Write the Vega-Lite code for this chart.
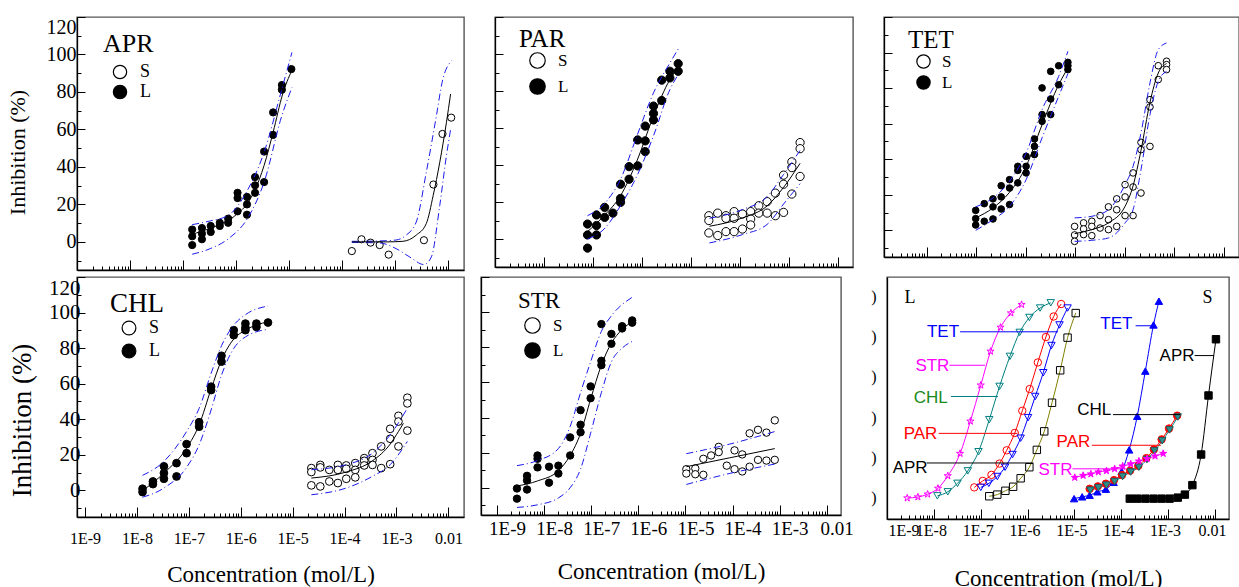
{
"$schema":"https://vega.github.io/schema/vega-lite/v6.json",
"background":"white",
"padding":{"left":5,"top":15,"right":0,"bottom":0},
"config":{
 "view":{"stroke":"#555","strokeWidth":1.4},
 "axis":{"domainColor":"black","domainWidth":1.3,"tickColor":"black","tickWidth":1,"grid":false,"labelFont":"Liberation Serif","labelColor":"black","titleFont":"Liberation Serif","titleFontWeight":"normal","titleColor":"black","labelOverlap":false,"labelBound":false,"labelFlush":false},
 "legend":{"titleFont":"Liberation Serif","titleFontWeight":"normal","titleColor":"black","labelFont":"Liberation Serif","labelColor":"black","symbolStrokeColor":"black","symbolStrokeWidth":1.2,"symbolType":"circle","padding":0}
},
"datasets":{
"apr":[
{"kind":"pt","type":"L","conc":1.49e-7,"inh":6.6},{"kind":"pt","type":"L","conc":1.49e-7,"inh":3.0},{"kind":"pt","type":"L","conc":1.49e-7,"inh":-1.7},
{"kind":"pt","type":"L","conc":2.275e-7,"inh":7.4},{"kind":"pt","type":"L","conc":2.275e-7,"inh":4.4},{"kind":"pt","type":"L","conc":2.275e-7,"inh":1.4},
{"kind":"pt","type":"L","conc":3.334e-7,"inh":8.5},{"kind":"pt","type":"L","conc":3.334e-7,"inh":5.3},
{"kind":"pt","type":"L","conc":4.94e-7,"inh":10.2},{"kind":"pt","type":"L","conc":4.94e-7,"inh":8.5},
{"kind":"pt","type":"L","conc":7.11e-7,"inh":12.4},{"kind":"pt","type":"L","conc":7.11e-7,"inh":10.2},
{"kind":"pt","type":"L","conc":1.069e-6,"inh":26.2},{"kind":"pt","type":"L","conc":1.069e-6,"inh":23.4},{"kind":"pt","type":"L","conc":1.069e-6,"inh":16.3},
{"kind":"pt","type":"L","conc":1.61e-6,"inh":24.0},{"kind":"pt","type":"L","conc":1.61e-6,"inh":20.0},{"kind":"pt","type":"L","conc":1.61e-6,"inh":14.5},
{"kind":"pt","type":"L","conc":2.286e-6,"inh":34.6},{"kind":"pt","type":"L","conc":2.286e-6,"inh":30.2},{"kind":"pt","type":"L","conc":2.286e-6,"inh":26.2},
{"kind":"pt","type":"L","conc":3.388e-6,"inh":48.2},{"kind":"pt","type":"L","conc":3.388e-6,"inh":31.9},
{"kind":"pt","type":"L","conc":5.01e-6,"inh":69.1},{"kind":"pt","type":"L","conc":5.01e-6,"inh":57.1},
{"kind":"pt","type":"L","conc":7.33e-6,"inh":83.7},{"kind":"pt","type":"L","conc":7.33e-6,"inh":81.2},
{"kind":"pt","type":"L","conc":1.107e-5,"inh":92.2},
{"kind":"fit","type":"L","conc":1.49e-7,"inh":3.9},{"kind":"fit","type":"L","conc":2.208e-7,"inh":5.7},{"kind":"fit","type":"L","conc":3.273e-7,"inh":7.1},{"kind":"fit","type":"L","conc":4.94e-7,"inh":9.4},{"kind":"fit","type":"L","conc":7.194e-7,"inh":11.5},{"kind":"fit","type":"L","conc":1.069e-6,"inh":15.1},{"kind":"fit","type":"L","conc":1.633e-6,"inh":20.4},{"kind":"fit","type":"L","conc":2.249e-6,"inh":27.4},{"kind":"fit","type":"L","conc":3.388e-6,"inh":40.8},{"kind":"fit","type":"L","conc":5.01e-6,"inh":58.5},{"kind":"fit","type":"L","conc":7.586e-6,"inh":78.9},{"kind":"fit","type":"L","conc":1.122e-5,"inh":91.3},
{"kind":"up","type":"L","conc":1.49e-7,"inh":9.2},{"kind":"up","type":"L","conc":3.273e-7,"inh":11.2},{"kind":"up","type":"L","conc":7.194e-7,"inh":14.2},{"kind":"up","type":"L","conc":1.633e-6,"inh":27.4},{"kind":"up","type":"L","conc":3.388e-6,"inh":47.8},{"kind":"up","type":"L","conc":7.33e-6,"inh":81.6},{"kind":"up","type":"L","conc":1.135e-5,"inh":101.1},
{"kind":"lo","type":"L","conc":1.49e-7,"inh":-6.6},{"kind":"lo","type":"L","conc":3.273e-7,"inh":-3.6},{"kind":"lo","type":"L","conc":7.194e-7,"inh":1.7},{"kind":"lo","type":"L","conc":1.633e-6,"inh":12.4},{"kind":"lo","type":"L","conc":3.388e-6,"inh":31.9},{"kind":"lo","type":"L","conc":7.33e-6,"inh":67.4},{"kind":"lo","type":"L","conc":1.135e-5,"inh":82.4},
{"kind":"pt","type":"S","conc":1.531e-4,"inh":-4.9},{"kind":"pt","type":"S","conc":2.328e-4,"inh":1.4},{"kind":"pt","type":"S","conc":3.451e-4,"inh":-0.4},{"kind":"pt","type":"S","conc":5.129e-4,"inh":-1.7},{"kind":"pt","type":"S","conc":7.586e-4,"inh":-6.8},{"kind":"pt","type":"S","conc":3.508e-3,"inh":0.9},{"kind":"pt","type":"S","conc":5.297e-3,"inh":30.6},{"kind":"pt","type":"S","conc":7.852e-3,"inh":57.6},{"kind":"pt","type":"S","conc":1.148e-2,"inh":66.3},
{"kind":"fit","type":"S","conc":1.531e-4,"inh":0},{"kind":"fit","type":"S","conc":7e-4,"inh":0},{"kind":"fit","type":"S","conc":1.403e-3,"inh":0.3},{"kind":"fit","type":"S","conc":2.512e-3,"inh":3.6},{"kind":"fit","type":"S","conc":3.89e-3,"inh":9.8},{"kind":"fit","type":"S","conc":5.248e-3,"inh":24.8},{"kind":"fit","type":"S","conc":6.982e-3,"inh":42.5},{"kind":"fit","type":"S","conc":9.333e-3,"inh":63.8},{"kind":"fit","type":"S","conc":1.117e-2,"inh":78.9},
{"kind":"up","type":"S","conc":1.531e-4,"inh":0.3},{"kind":"up","type":"S","conc":5e-4,"inh":0.5},{"kind":"up","type":"S","conc":1.047e-3,"inh":1},{"kind":"up","type":"S","conc":1.622e-3,"inh":3.6},{"kind":"up","type":"S","conc":2.512e-3,"inh":10.6},{"kind":"up","type":"S","conc":3.89e-3,"inh":37.2},{"kind":"up","type":"S","conc":6.04e-3,"inh":67.4},{"kind":"up","type":"S","conc":7.73e-3,"inh":85.1},{"kind":"up","type":"S","conc":1.164e-2,"inh":96.7},
{"kind":"lo","type":"S","conc":1.531e-4,"inh":-0.3},{"kind":"lo","type":"S","conc":5e-4,"inh":-0.5},{"kind":"lo","type":"S","conc":1.047e-3,"inh":-3.6},{"kind":"lo","type":"S","conc":1.879e-3,"inh":-8.0},{"kind":"lo","type":"S","conc":3.516e-3,"inh":-12.1},{"kind":"lo","type":"S","conc":4.853e-3,"inh":-8.0},{"kind":"lo","type":"S","conc":6.982e-3,"inh":19.5},{"kind":"lo","type":"S","conc":9.333e-3,"inh":46.1},{"kind":"lo","type":"S","conc":1.117e-2,"inh":59.9}
],
"par":[
{"kind":"pt","type":"L","conc":7.709e-8,"inh":8.2},{"kind":"pt","type":"L","conc":7.709e-8,"inh":2.3},{"kind":"pt","type":"L","conc":7.709e-8,"inh":-4.8},
{"kind":"pt","type":"L","conc":1.175e-7,"inh":13.1},{"kind":"pt","type":"L","conc":1.175e-7,"inh":7.4},{"kind":"pt","type":"L","conc":1.175e-7,"inh":2.3},
{"kind":"pt","type":"L","conc":1.722e-7,"inh":17.2},{"kind":"pt","type":"L","conc":1.722e-7,"inh":11.8},
{"kind":"pt","type":"L","conc":2.541e-7,"inh":14.1},
{"kind":"pt","type":"L","conc":3.631e-7,"inh":29.7},{"kind":"pt","type":"L","conc":3.631e-7,"inh":22.0},{"kind":"pt","type":"L","conc":3.631e-7,"inh":19.9},
{"kind":"pt","type":"L","conc":5.42e-7,"inh":39.2},{"kind":"pt","type":"L","conc":5.42e-7,"inh":32.4},
{"kind":"pt","type":"L","conc":8.128e-7,"inh":53.6},{"kind":"pt","type":"L","conc":8.128e-7,"inh":39.6},
{"kind":"pt","type":"L","conc":1.156e-6,"inh":61.1},{"kind":"pt","type":"L","conc":1.156e-6,"inh":53.1},{"kind":"pt","type":"L","conc":1.156e-6,"inh":47.3},
{"kind":"pt","type":"L","conc":1.706e-6,"inh":71.9},{"kind":"pt","type":"L","conc":1.706e-6,"inh":67.9},{"kind":"pt","type":"L","conc":1.706e-6,"inh":64.4},
{"kind":"pt","type":"L","conc":2.512e-6,"inh":85.9},{"kind":"pt","type":"L","conc":2.512e-6,"inh":74.9},
{"kind":"pt","type":"L","conc":3.69e-6,"inh":90.7},{"kind":"pt","type":"L","conc":3.69e-6,"inh":87.1},
{"kind":"pt","type":"L","conc":5.445e-6,"inh":94.8},{"kind":"pt","type":"L","conc":5.445e-6,"inh":90.7},
{"kind":"fit","type":"L","conc":7.709e-8,"inh":4.1},{"kind":"fit","type":"L","conc":1.675e-7,"inh":12.7},{"kind":"fit","type":"L","conc":3.631e-7,"inh":23.5},{"kind":"fit","type":"L","conc":7.852e-7,"inh":42.3},{"kind":"fit","type":"L","conc":1.706e-6,"inh":66.5},{"kind":"fit","type":"L","conc":3.69e-6,"inh":86.2},{"kind":"fit","type":"L","conc":5.445e-6,"inh":92.5},
{"kind":"up","type":"L","conc":7.709e-8,"inh":12.7},{"kind":"up","type":"L","conc":1.675e-7,"inh":19},{"kind":"up","type":"L","conc":3.631e-7,"inh":32.4},{"kind":"up","type":"L","conc":7.852e-7,"inh":55.8},{"kind":"up","type":"L","conc":1.706e-6,"inh":79},{"kind":"up","type":"L","conc":3.69e-6,"inh":95.2},{"kind":"up","type":"L","conc":5.445e-6,"inh":102.7},
{"kind":"lo","type":"L","conc":7.709e-8,"inh":0.2},{"kind":"lo","type":"L","conc":1.675e-7,"inh":5.5},{"kind":"lo","type":"L","conc":3.631e-7,"inh":18.1},{"kind":"lo","type":"L","conc":7.852e-7,"inh":34.2},{"kind":"lo","type":"L","conc":1.706e-6,"inh":55.8},{"kind":"lo","type":"L","conc":3.69e-6,"inh":80.8},{"kind":"lo","type":"L","conc":5.445e-6,"inh":88.9},
{"kind":"pt","type":"S","conc":2.296e-5,"inh":12.7},{"kind":"pt","type":"S","conc":2.296e-5,"inh":10.1},{"kind":"pt","type":"S","conc":2.296e-5,"inh":3.4},
{"kind":"pt","type":"S","conc":3.483e-5,"inh":14.1},{"kind":"pt","type":"S","conc":3.483e-5,"inh":2.0},
{"kind":"pt","type":"S","conc":5.129e-5,"inh":12.7},{"kind":"pt","type":"S","conc":5.129e-5,"inh":11.3},{"kind":"pt","type":"S","conc":5.129e-5,"inh":4.1},
{"kind":"pt","type":"S","conc":7.534e-5,"inh":14.9},{"kind":"pt","type":"S","conc":7.534e-5,"inh":11.3},{"kind":"pt","type":"S","conc":7.534e-5,"inh":4.1},
{"kind":"pt","type":"S","conc":1.112e-4,"inh":13.6},{"kind":"pt","type":"S","conc":1.112e-4,"inh":5.5},
{"kind":"pt","type":"S","conc":1.637e-4,"inh":14.9},{"kind":"pt","type":"S","conc":1.637e-4,"inh":10.9},{"kind":"pt","type":"S","conc":1.637e-4,"inh":7.7},
{"kind":"pt","type":"S","conc":2.399e-4,"inh":18.1},{"kind":"pt","type":"S","conc":2.399e-4,"inh":14.1},
{"kind":"pt","type":"S","conc":3.548e-4,"inh":20.3},{"kind":"pt","type":"S","conc":3.548e-4,"inh":14.1},
{"kind":"pt","type":"S","conc":5.224e-4,"inh":24.9},{"kind":"pt","type":"S","conc":5.224e-4,"inh":12.7},
{"kind":"pt","type":"S","conc":7.674e-4,"inh":34.6},{"kind":"pt","type":"S","conc":7.674e-4,"inh":29.7},{"kind":"pt","type":"S","conc":7.674e-4,"inh":14.5},
{"kind":"pt","type":"S","conc":1.132e-3,"inh":41.8},{"kind":"pt","type":"S","conc":1.132e-3,"inh":38.7},{"kind":"pt","type":"S","conc":1.132e-3,"inh":24.4},
{"kind":"pt","type":"S","conc":1.667e-3,"inh":52.2},{"kind":"pt","type":"S","conc":1.667e-3,"inh":48.9},{"kind":"pt","type":"S","conc":1.667e-3,"inh":33.9},
{"kind":"fit","type":"S","conc":2.36e-5,"inh":7},{"kind":"fit","type":"S","conc":1.112e-4,"inh":11.5},{"kind":"fit","type":"S","conc":3.548e-4,"inh":18},{"kind":"fit","type":"S","conc":7.674e-4,"inh":28},{"kind":"fit","type":"S","conc":1.667e-3,"inh":41},
{"kind":"up","type":"S","conc":2.36e-5,"inh":11.3},{"kind":"up","type":"S","conc":1.112e-4,"inh":16},{"kind":"up","type":"S","conc":3.548e-4,"inh":23},{"kind":"up","type":"S","conc":7.674e-4,"inh":35},{"kind":"up","type":"S","conc":1.667e-3,"inh":48},
{"kind":"lo","type":"S","conc":2.36e-5,"inh":-2},{"kind":"lo","type":"S","conc":1.112e-4,"inh":2.5},{"kind":"lo","type":"S","conc":3.548e-4,"inh":8},{"kind":"lo","type":"S","conc":7.674e-4,"inh":19},{"kind":"lo","type":"S","conc":1.667e-3,"inh":30}
],
"tet":[
{"kind":"pt","type":"L","conc":9.817e-8,"inh":11.2},{"kind":"pt","type":"L","conc":9.817e-8,"inh":6.6},{"kind":"pt","type":"L","conc":9.817e-8,"inh":3.0},
{"kind":"pt","type":"L","conc":1.462e-7,"inh":15.0},{"kind":"pt","type":"L","conc":1.462e-7,"inh":5.1},
{"kind":"pt","type":"L","conc":2.188e-7,"inh":17.7},{"kind":"pt","type":"L","conc":2.188e-7,"inh":13.2},{"kind":"pt","type":"L","conc":2.188e-7,"inh":6.4},
{"kind":"pt","type":"L","conc":3.206e-7,"inh":25.1},{"kind":"pt","type":"L","conc":3.206e-7,"inh":18.8},{"kind":"pt","type":"L","conc":3.206e-7,"inh":12.0},
{"kind":"pt","type":"L","conc":4.732e-7,"inh":28.5},{"kind":"pt","type":"L","conc":4.732e-7,"inh":23.8},{"kind":"pt","type":"L","conc":4.732e-7,"inh":14.5},
{"kind":"pt","type":"L","conc":6.934e-7,"inh":36.0},{"kind":"pt","type":"L","conc":6.934e-7,"inh":33.7},{"kind":"pt","type":"L","conc":6.934e-7,"inh":26.7},
{"kind":"pt","type":"L","conc":1.019e-6,"inh":41.6},{"kind":"pt","type":"L","conc":1.019e-6,"inh":36.0},{"kind":"pt","type":"L","conc":1.019e-6,"inh":32.3},
{"kind":"pt","type":"L","conc":1.503e-6,"inh":51.4},{"kind":"pt","type":"L","conc":1.503e-6,"inh":47.2},{"kind":"pt","type":"L","conc":1.503e-6,"inh":42.6},
{"kind":"pt","type":"L","conc":2.138e-6,"inh":80.1},{"kind":"pt","type":"L","conc":2.138e-6,"inh":65.1},{"kind":"pt","type":"L","conc":2.138e-6,"inh":61.3},
{"kind":"pt","type":"L","conc":3.192e-6,"inh":89.4},{"kind":"pt","type":"L","conc":3.192e-6,"inh":73.9},{"kind":"pt","type":"L","conc":3.192e-6,"inh":65.1},
{"kind":"pt","type":"L","conc":4.624e-6,"inh":92.6},{"kind":"pt","type":"L","conc":4.624e-6,"inh":81.9},
{"kind":"pt","type":"L","conc":7.096e-6,"inh":94.5},{"kind":"pt","type":"L","conc":7.096e-6,"inh":92.6},{"kind":"pt","type":"L","conc":7.096e-6,"inh":90.4},
{"kind":"fit","type":"L","conc":9.817e-8,"inh":7.0},{"kind":"fit","type":"L","conc":2.188e-7,"inh":12.6},{"kind":"fit","type":"L","conc":4.732e-7,"inh":21.4},{"kind":"fit","type":"L","conc":1.019e-6,"inh":36},{"kind":"fit","type":"L","conc":2.138e-6,"inh":59.4},{"kind":"fit","type":"L","conc":4.624e-6,"inh":81.9},{"kind":"fit","type":"L","conc":7.096e-6,"inh":91.3},
{"kind":"up","type":"L","conc":9.817e-8,"inh":13.2},{"kind":"up","type":"L","conc":2.188e-7,"inh":18.2},{"kind":"up","type":"L","conc":4.732e-7,"inh":27.6},{"kind":"up","type":"L","conc":1.019e-6,"inh":43.5},{"kind":"up","type":"L","conc":2.138e-6,"inh":67.9},{"kind":"up","type":"L","conc":4.624e-6,"inh":86.6},{"kind":"up","type":"L","conc":7.096e-6,"inh":100.7},
{"kind":"lo","type":"L","conc":9.817e-8,"inh":0},{"kind":"lo","type":"L","conc":2.188e-7,"inh":6},{"kind":"lo","type":"L","conc":4.732e-7,"inh":13.5},{"kind":"lo","type":"L","conc":1.019e-6,"inh":28.5},{"kind":"lo","type":"L","conc":2.138e-6,"inh":52},{"kind":"lo","type":"L","conc":4.624e-6,"inh":75.4},{"kind":"lo","type":"L","conc":7.096e-6,"inh":88.1},
{"kind":"pt","type":"S","conc":9.683e-6,"inh":2.2},{"kind":"pt","type":"S","conc":9.683e-6,"inh":-2.6},{"kind":"pt","type":"S","conc":9.683e-6,"inh":-6.2},
{"kind":"pt","type":"S","conc":1.469e-5,"inh":4.2},{"kind":"pt","type":"S","conc":1.469e-5,"inh":0.8},{"kind":"pt","type":"S","conc":1.469e-5,"inh":-2.4},
{"kind":"pt","type":"S","conc":2.153e-5,"inh":5.1},{"kind":"pt","type":"S","conc":2.153e-5,"inh":2.2},{"kind":"pt","type":"S","conc":2.153e-5,"inh":-3.0},
{"kind":"pt","type":"S","conc":3.162e-5,"inh":8.3},{"kind":"pt","type":"S","conc":3.162e-5,"inh":1.3},
{"kind":"pt","type":"S","conc":4.667e-5,"inh":13.2},{"kind":"pt","type":"S","conc":4.667e-5,"inh":6.0},{"kind":"pt","type":"S","conc":4.667e-5,"inh":0.4},
{"kind":"pt","type":"S","conc":6.839e-5,"inh":17.7},{"kind":"pt","type":"S","conc":6.839e-5,"inh":11.6},{"kind":"pt","type":"S","conc":6.839e-5,"inh":2.2},
{"kind":"pt","type":"S","conc":1.009e-4,"inh":25.7},{"kind":"pt","type":"S","conc":1.009e-4,"inh":18.8},{"kind":"pt","type":"S","conc":1.009e-4,"inh":8.3},
{"kind":"pt","type":"S","conc":1.462e-4,"inh":32.3},{"kind":"pt","type":"S","conc":1.462e-4,"inh":24.4},{"kind":"pt","type":"S","conc":1.462e-4,"inh":8.3},
{"kind":"pt","type":"S","conc":2.113e-4,"inh":49.5},{"kind":"pt","type":"S","conc":2.113e-4,"inh":45.4},{"kind":"pt","type":"S","conc":2.113e-4,"inh":21.0},
{"kind":"pt","type":"S","conc":3.206e-4,"inh":73.5},{"kind":"pt","type":"S","conc":3.206e-4,"inh":69.4},{"kind":"pt","type":"S","conc":3.206e-4,"inh":47.2},
{"kind":"pt","type":"S","conc":4.71e-4,"inh":92.6},{"kind":"pt","type":"S","conc":4.71e-4,"inh":84.8},
{"kind":"pt","type":"S","conc":6.918e-4,"inh":95.1},{"kind":"pt","type":"S","conc":6.918e-4,"inh":93.2},{"kind":"pt","type":"S","conc":6.918e-4,"inh":90.4},
{"kind":"fit","type":"S","conc":9.683e-6,"inh":-1.9},{"kind":"fit","type":"S","conc":2.153e-5,"inh":0.4},{"kind":"fit","type":"S","conc":4.667e-5,"inh":4.2},{"kind":"fit","type":"S","conc":1.009e-4,"inh":13.5},{"kind":"fit","type":"S","conc":1.462e-4,"inh":25},{"kind":"fit","type":"S","conc":2.113e-4,"inh":45},{"kind":"fit","type":"S","conc":3.206e-4,"inh":72},{"kind":"fit","type":"S","conc":4.71e-4,"inh":88.5},{"kind":"fit","type":"S","conc":6.918e-4,"inh":93.8},
{"kind":"up","type":"S","conc":9.683e-6,"inh":7},{"kind":"up","type":"S","conc":2.153e-5,"inh":7.9},{"kind":"up","type":"S","conc":4.667e-5,"inh":11.6},{"kind":"up","type":"S","conc":1.009e-4,"inh":25.7},{"kind":"up","type":"S","conc":1.462e-4,"inh":36},{"kind":"up","type":"S","conc":2.113e-4,"inh":54.8},{"kind":"up","type":"S","conc":3.206e-4,"inh":82.9},{"kind":"up","type":"S","conc":4.71e-4,"inh":101.6},{"kind":"up","type":"S","conc":6.918e-4,"inh":105.4},
{"kind":"lo","type":"S","conc":9.683e-6,"inh":-6.2},{"kind":"lo","type":"S","conc":2.153e-5,"inh":-5.6},{"kind":"lo","type":"S","conc":4.667e-5,"inh":-4.3},{"kind":"lo","type":"S","conc":1.009e-4,"inh":4.2},{"kind":"lo","type":"S","conc":1.462e-4,"inh":11.6},{"kind":"lo","type":"S","conc":2.113e-4,"inh":34.1},{"kind":"lo","type":"S","conc":3.206e-4,"inh":65.1},{"kind":"lo","type":"S","conc":4.71e-4,"inh":83.8},{"kind":"lo","type":"S","conc":6.918e-4,"inh":89.4}
],
"chl":[
{"kind":"pt","type":"L","conc":1.282e-8,"inh":0.9},{"kind":"pt","type":"L","conc":1.282e-8,"inh":-1.0},
{"kind":"pt","type":"L","conc":2.032e-8,"inh":5.0},{"kind":"pt","type":"L","conc":2.032e-8,"inh":3.5},
{"kind":"pt","type":"L","conc":3.311e-8,"inh":13.5},{"kind":"pt","type":"L","conc":3.311e-8,"inh":9.7},{"kind":"pt","type":"L","conc":3.311e-8,"inh":6.5},
{"kind":"pt","type":"L","conc":5.794e-8,"inh":15.3},{"kind":"pt","type":"L","conc":5.794e-8,"inh":7.8},
{"kind":"pt","type":"L","conc":9.036e-8,"inh":26.0},{"kind":"pt","type":"L","conc":9.036e-8,"inh":20.9},
{"kind":"pt","type":"L","conc":1.578e-7,"inh":38.3},{"kind":"pt","type":"L","conc":1.578e-7,"inh":35.8},
{"kind":"pt","type":"L","conc":2.685e-7,"inh":58.3},{"kind":"pt","type":"L","conc":2.685e-7,"inh":56.4},
{"kind":"pt","type":"L","conc":4.256e-7,"inh":75.7},{"kind":"pt","type":"L","conc":4.256e-7,"inh":72.4},
{"kind":"pt","type":"L","conc":7.328e-7,"inh":90.1},{"kind":"pt","type":"L","conc":7.328e-7,"inh":87.3},
{"kind":"pt","type":"L","conc":1.23e-6,"inh":93.8},{"kind":"pt","type":"L","conc":1.23e-6,"inh":91.5},{"kind":"pt","type":"L","conc":1.23e-6,"inh":90.1},
{"kind":"pt","type":"L","conc":2.004e-6,"inh":93.8},{"kind":"pt","type":"L","conc":2.004e-6,"inh":91.9},
{"kind":"pt","type":"L","conc":3.35e-6,"inh":94.4},
{"kind":"fit","type":"L","conc":1.282e-8,"inh":-0.2},{"kind":"fit","type":"L","conc":3.311e-8,"inh":9.7},{"kind":"fit","type":"L","conc":9.036e-8,"inh":23.7},{"kind":"fit","type":"L","conc":1.578e-7,"inh":36.8},{"kind":"fit","type":"L","conc":2.685e-7,"inh":57.0},{"kind":"fit","type":"L","conc":4.256e-7,"inh":73.2},{"kind":"fit","type":"L","conc":7.328e-7,"inh":85.1},{"kind":"fit","type":"L","conc":1.23e-6,"inh":90.1},{"kind":"fit","type":"L","conc":3.35e-6,"inh":94.8},
{"kind":"up","type":"L","conc":1.282e-8,"inh":8.4},{"kind":"up","type":"L","conc":3.311e-8,"inh":16.3},{"kind":"up","type":"L","conc":9.036e-8,"inh":33.1},{"kind":"up","type":"L","conc":1.578e-7,"inh":46.1},{"kind":"up","type":"L","conc":2.685e-7,"inh":65.8},{"kind":"up","type":"L","conc":4.256e-7,"inh":81.3},{"kind":"up","type":"L","conc":7.328e-7,"inh":92.9},{"kind":"up","type":"L","conc":1.23e-6,"inh":98.8},{"kind":"up","type":"L","conc":3.35e-6,"inh":103.7},
{"kind":"lo","type":"L","conc":1.282e-8,"inh":-3.9},{"kind":"lo","type":"L","conc":3.311e-8,"inh":1.3},{"kind":"lo","type":"L","conc":9.036e-8,"inh":12.9},{"kind":"lo","type":"L","conc":1.578e-7,"inh":25.6},{"kind":"lo","type":"L","conc":2.685e-7,"inh":45.2},{"kind":"lo","type":"L","conc":4.256e-7,"inh":64.8},{"kind":"lo","type":"L","conc":7.328e-7,"inh":79.8},{"kind":"lo","type":"L","conc":1.23e-6,"inh":86.3},{"kind":"lo","type":"L","conc":3.35e-6,"inh":90.6},
{"kind":"pt","type":"S","conc":2.291e-5,"inh":12.5},{"kind":"pt","type":"S","conc":2.291e-5,"inh":10.3},{"kind":"pt","type":"S","conc":2.291e-5,"inh":2.8},
{"kind":"pt","type":"S","conc":3.404e-5,"inh":14.3},{"kind":"pt","type":"S","conc":3.404e-5,"inh":12.9},{"kind":"pt","type":"S","conc":3.404e-5,"inh":2.2},
{"kind":"pt","type":"S","conc":5.082e-5,"inh":11.5},{"kind":"pt","type":"S","conc":5.082e-5,"inh":5.0},
{"kind":"pt","type":"S","conc":7.43e-5,"inh":14.3},{"kind":"pt","type":"S","conc":7.43e-5,"inh":11.5},{"kind":"pt","type":"S","conc":7.43e-5,"inh":4.1},
{"kind":"pt","type":"S","conc":1.079e-4,"inh":14.0},{"kind":"pt","type":"S","conc":1.079e-4,"inh":12.1},{"kind":"pt","type":"S","conc":1.079e-4,"inh":6.5},
{"kind":"pt","type":"S","conc":1.607e-4,"inh":15.3},{"kind":"pt","type":"S","conc":1.607e-4,"inh":11.5},{"kind":"pt","type":"S","conc":1.607e-4,"inh":7.3},
{"kind":"pt","type":"S","conc":2.393e-4,"inh":18.1},{"kind":"pt","type":"S","conc":2.393e-4,"inh":16.6},{"kind":"pt","type":"S","conc":2.393e-4,"inh":14.0},
{"kind":"pt","type":"S","conc":3.451e-4,"inh":20.9},{"kind":"pt","type":"S","conc":3.451e-4,"inh":17.1},{"kind":"pt","type":"S","conc":3.451e-4,"inh":14.3},
{"kind":"pt","type":"S","conc":5.082e-4,"inh":24.7},{"kind":"pt","type":"S","conc":5.082e-4,"inh":12.5},
{"kind":"pt","type":"S","conc":7.568e-4,"inh":34.6},{"kind":"pt","type":"S","conc":7.568e-4,"inh":29.0},{"kind":"pt","type":"S","conc":7.568e-4,"inh":14.7},
{"kind":"pt","type":"S","conc":1.092e-3,"inh":41.9},{"kind":"pt","type":"S","conc":1.092e-3,"inh":38.7},{"kind":"pt","type":"S","conc":1.092e-3,"inh":24.7},
{"kind":"pt","type":"S","conc":1.622e-3,"inh":52.1},{"kind":"pt","type":"S","conc":1.622e-3,"inh":48.9},{"kind":"pt","type":"S","conc":1.622e-3,"inh":33.6},
{"kind":"fit","type":"S","conc":2.291e-5,"inh":6.9},{"kind":"fit","type":"S","conc":1.079e-4,"inh":10.3},{"kind":"fit","type":"S","conc":3.451e-4,"inh":16.6},{"kind":"fit","type":"S","conc":7.568e-4,"inh":26.0},{"kind":"fit","type":"S","conc":1.092e-3,"inh":33.1},{"kind":"fit","type":"S","conc":1.365e-3,"inh":37.7},
{"kind":"up","type":"S","conc":2.291e-5,"inh":11.6},{"kind":"up","type":"S","conc":1.079e-4,"inh":14.4},{"kind":"up","type":"S","conc":3.451e-4,"inh":20.9},{"kind":"up","type":"S","conc":7.568e-4,"inh":31.2},{"kind":"up","type":"S","conc":1.622e-3,"inh":46.2},
{"kind":"lo","type":"S","conc":2.291e-5,"inh":-2.5},{"kind":"lo","type":"S","conc":1.079e-4,"inh":1.3},{"kind":"lo","type":"S","conc":3.451e-4,"inh":7.9},{"kind":"lo","type":"S","conc":7.568e-4,"inh":14.4},{"kind":"lo","type":"S","conc":1.622e-3,"inh":27.5}
],
"strp":[
{"kind":"pt","type":"L","conc":2.649e-9,"inh":-0.4},{"kind":"pt","type":"L","conc":2.649e-9,"inh":-6.2},
{"kind":"pt","type":"L","conc":4.335e-9,"inh":6.8},{"kind":"pt","type":"L","conc":4.335e-9,"inh":4.2},{"kind":"pt","type":"L","conc":4.335e-9,"inh":-1.0},
{"kind":"pt","type":"L","conc":7.244e-9,"inh":18.4},{"kind":"pt","type":"L","conc":7.244e-9,"inh":16.5},{"kind":"pt","type":"L","conc":7.244e-9,"inh":11.6},
{"kind":"pt","type":"L","conc":1.271e-8,"inh":12.0},{"kind":"pt","type":"L","conc":1.271e-8,"inh":2.9},
{"kind":"pt","type":"L","conc":2.009e-8,"inh":12.6},{"kind":"pt","type":"L","conc":2.009e-8,"inh":8.1},
{"kind":"pt","type":"L","conc":3.573e-8,"inh":28.7},{"kind":"pt","type":"L","conc":3.573e-8,"inh":18.4},
{"kind":"pt","type":"L","conc":5.943e-8,"inh":44.2},{"kind":"pt","type":"L","conc":5.943e-8,"inh":35.9},{"kind":"pt","type":"L","conc":5.943e-8,"inh":31.6},
{"kind":"pt","type":"L","conc":9.705e-8,"inh":57.7},{"kind":"pt","type":"L","conc":9.705e-8,"inh":51.0},
{"kind":"pt","type":"L","conc":1.644e-7,"inh":93.2},{"kind":"pt","type":"L","conc":1.644e-7,"inh":72.3},{"kind":"pt","type":"L","conc":1.644e-7,"inh":69.8},
{"kind":"pt","type":"L","conc":2.685e-7,"inh":87.6},{"kind":"pt","type":"L","conc":2.685e-7,"inh":82.0},
{"kind":"pt","type":"L","conc":4.529e-7,"inh":92.0},{"kind":"pt","type":"L","conc":4.529e-7,"inh":90.7},
{"kind":"pt","type":"L","conc":7.413e-7,"inh":95.3},{"kind":"pt","type":"L","conc":7.413e-7,"inh":94.0},
{"kind":"fit","type":"L","conc":2.649e-9,"inh":1.0},{"kind":"fit","type":"L","conc":7.244e-9,"inh":3.9},{"kind":"fit","type":"L","conc":2.009e-8,"inh":9.7},{"kind":"fit","type":"L","conc":3.573e-8,"inh":18.4},{"kind":"fit","type":"L","conc":5.943e-8,"inh":31},{"kind":"fit","type":"L","conc":9.705e-8,"inh":50.4},{"kind":"fit","type":"L","conc":1.644e-7,"inh":69.8},{"kind":"fit","type":"L","conc":2.685e-7,"inh":82.4},{"kind":"fit","type":"L","conc":4.529e-7,"inh":90.1},{"kind":"fit","type":"L","conc":7.413e-7,"inh":94.6},
{"kind":"up","type":"L","conc":2.649e-9,"inh":12.6},{"kind":"up","type":"L","conc":7.244e-9,"inh":15.5},{"kind":"up","type":"L","conc":2.009e-8,"inh":22.3},{"kind":"up","type":"L","conc":3.573e-8,"inh":34.9},{"kind":"up","type":"L","conc":5.943e-8,"inh":54.2},{"kind":"up","type":"L","conc":9.705e-8,"inh":71.7},{"kind":"up","type":"L","conc":1.644e-7,"inh":89.1},{"kind":"up","type":"L","conc":2.685e-7,"inh":97.9},{"kind":"up","type":"L","conc":7.413e-7,"inh":108.5},
{"kind":"lo","type":"L","conc":2.649e-9,"inh":-11.2},{"kind":"lo","type":"L","conc":7.244e-9,"inh":-9.7},{"kind":"lo","type":"L","conc":2.009e-8,"inh":-5.8},{"kind":"lo","type":"L","conc":3.573e-8,"inh":0},{"kind":"lo","type":"L","conc":5.943e-8,"inh":10.7},{"kind":"lo","type":"L","conc":9.705e-8,"inh":31},{"kind":"lo","type":"L","conc":1.644e-7,"inh":54.2},{"kind":"lo","type":"L","conc":2.685e-7,"inh":71.7},{"kind":"lo","type":"L","conc":4.529e-7,"inh":79.5},{"kind":"lo","type":"L","conc":7.413e-7,"inh":83.3},
{"kind":"pt","type":"S","conc":1.045e-5,"inh":10.6},{"kind":"pt","type":"S","conc":1.045e-5,"inh":8.1},
{"kind":"pt","type":"S","conc":1.622e-5,"inh":11.0},{"kind":"pt","type":"S","conc":1.622e-5,"inh":7.7},
{"kind":"pt","type":"S","conc":2.399e-5,"inh":16.5},{"kind":"pt","type":"S","conc":2.399e-5,"inh":7.4},
{"kind":"pt","type":"S","conc":3.508e-5,"inh":18.4},
{"kind":"pt","type":"S","conc":5.093e-5,"inh":23.3},{"kind":"pt","type":"S","conc":5.093e-5,"inh":20.3},
{"kind":"pt","type":"S","conc":7.551e-5,"inh":12.6},
{"kind":"pt","type":"S","conc":1.104e-4,"inh":21.3},{"kind":"pt","type":"S","conc":1.104e-4,"inh":10.6},
{"kind":"pt","type":"S","conc":1.611e-4,"inh":19.0},{"kind":"pt","type":"S","conc":1.611e-4,"inh":9.3},
{"kind":"pt","type":"S","conc":2.307e-4,"inh":31.0},{"kind":"pt","type":"S","conc":2.307e-4,"inh":12.0},
{"kind":"pt","type":"S","conc":3.475e-4,"inh":33.0},{"kind":"pt","type":"S","conc":3.475e-4,"inh":15.9},
{"kind":"pt","type":"S","conc":5.248e-4,"inh":31.4},{"kind":"pt","type":"S","conc":5.248e-4,"inh":15.5},
{"kind":"pt","type":"S","conc":7.889e-4,"inh":38.4},{"kind":"pt","type":"S","conc":7.889e-4,"inh":15.9},
{"kind":"fit","type":"S","conc":1.045e-5,"inh":12.0},{"kind":"fit","type":"S","conc":8.5e-5,"inh":17},{"kind":"fit","type":"S","conc":7.889e-4,"inh":22.3},
{"kind":"up","type":"S","conc":1.045e-5,"inh":19.4},{"kind":"up","type":"S","conc":8.5e-5,"inh":24.8},{"kind":"up","type":"S","conc":7.889e-4,"inh":32},
{"kind":"lo","type":"S","conc":1.045e-5,"inh":1.9},{"kind":"lo","type":"S","conc":8.5e-5,"inh":8.1},{"kind":"lo","type":"S","conc":7.889e-4,"inh":13.5}
],
"p6":[
{"series":"L_STR","conc":2.704e-9,"inh":-0.2},{"series":"L_STR","conc":4.571e-9,"inh":0.3},{"series":"L_STR","conc":7.362e-9,"inh":1.7},{"series":"L_STR","conc":1.227e-8,"inh":4.6},{"series":"L_STR","conc":1.982e-8,"inh":10.8},{"series":"L_STR","conc":3.631e-8,"inh":21.9},{"series":"L_STR","conc":6.026e-8,"inh":37.9},{"series":"L_STR","conc":1.005e-7,"inh":55.8},{"series":"L_STR","conc":1.622e-7,"inh":72.6},{"series":"L_STR","conc":2.649e-7,"inh":84.5},{"series":"L_STR","conc":4.416e-7,"inh":91.6},{"series":"L_STR","conc":7.464e-7,"inh":95.8},
{"series":"L_CHL","conc":1.189e-8,"inh":0.9},{"series":"L_CHL","conc":1.982e-8,"inh":2.9},{"series":"L_CHL","conc":3.192e-8,"inh":7.1},{"series":"L_CHL","conc":5.321e-8,"inh":13.3},{"series":"L_CHL","conc":8.995e-8,"inh":22.8},{"series":"L_CHL","conc":1.524e-7,"inh":38.7},{"series":"L_CHL","conc":2.529e-7,"inh":55.2},{"series":"L_CHL","conc":4.207e-7,"inh":70.1},{"series":"L_CHL","conc":6.792e-7,"inh":82.0},{"series":"L_CHL","conc":1.096e-6,"inh":89.4},{"series":"L_CHL","conc":1.854e-6,"inh":94.1},{"series":"L_CHL","conc":3.133e-6,"inh":96.7},
{"series":"L_PAR","conc":7.295e-8,"inh":5.1},{"series":"L_PAR","conc":1.107e-7,"inh":8.3},{"series":"L_PAR","conc":1.698e-7,"inh":11.3},{"series":"L_PAR","conc":2.529e-7,"inh":16.9},{"series":"L_PAR","conc":3.597e-7,"inh":23.5},{"series":"L_PAR","conc":5.346e-7,"inh":32.1},{"series":"L_PAR","conc":7.727e-7,"inh":43.1},{"series":"L_PAR","conc":1.112e-6,"inh":53.9},{"series":"L_PAR","conc":1.66e-6,"inh":67.1},{"series":"L_PAR","conc":2.466e-6,"inh":79.7},{"series":"L_PAR","conc":3.614e-6,"inh":89.9},{"series":"L_PAR","conc":5.224e-6,"inh":96.1},
{"series":"L_TET","conc":1.005e-7,"inh":5.1},{"series":"L_TET","conc":1.493e-7,"inh":7.1},{"series":"L_TET","conc":2.265e-7,"inh":10.5},{"series":"L_TET","conc":3.319e-7,"inh":15.1},{"series":"L_TET","conc":4.786e-7,"inh":21.4},{"series":"L_TET","conc":7.129e-7,"inh":29.5},{"series":"L_TET","conc":1.028e-6,"inh":39.7},{"series":"L_TET","conc":1.459e-6,"inh":50.2},{"series":"L_TET","conc":2.168e-6,"inh":62.0},{"series":"L_TET","conc":3.236e-6,"inh":75.5},{"series":"L_TET","conc":4.819e-6,"inh":85.7},{"series":"L_TET","conc":7.161e-6,"inh":94.1},
{"series":"L_APR","conc":1.524e-7,"inh":0.7},{"series":"L_APR","conc":2.265e-7,"inh":1.5},{"series":"L_APR","conc":3.365e-7,"inh":3.4},{"series":"L_APR","conc":4.932e-7,"inh":5.4},{"series":"L_APR","conc":7.129e-7,"inh":9.6},{"series":"L_APR","conc":1.094e-6,"inh":15.1},{"series":"L_APR","conc":1.581e-6,"inh":23.7},{"series":"L_APR","conc":2.275e-6,"inh":32.9},{"series":"L_APR","conc":3.334e-6,"inh":47.1},{"series":"L_APR","conc":4.977e-6,"inh":63.2},{"series":"L_APR","conc":7.161e-6,"inh":79.4},{"series":"L_APR","conc":1.069e-5,"inh":91.6},
{"series":"S_TET","conc":9.863e-6,"inh":-0.5},{"series":"S_TET","conc":1.466e-5,"inh":0.4},{"series":"S_TET","conc":2.118e-5,"inh":1.2},{"series":"S_TET","conc":3.105e-5,"inh":2.9},{"series":"S_TET","conc":4.699e-5,"inh":4.2},{"series":"S_TET","conc":6.887e-5,"inh":7.6},{"series":"S_TET","conc":1.023e-4,"inh":13.0},{"series":"S_TET","conc":1.479e-4,"inh":23.7},{"series":"S_TET","conc":2.198e-4,"inh":40.4},{"series":"S_TET","conc":3.273e-4,"inh":62.8},{"series":"S_TET","conc":4.887e-4,"inh":85.7},{"series":"S_TET","conc":6.383e-4,"inh":97.5},
{"series":"S_PAR","conc":2.12e-5,"inh":4.4},{"series":"S_PAR","conc":3.16e-5,"inh":5.6},{"series":"S_PAR","conc":4.7e-5,"inh":6.9},{"series":"S_PAR","conc":7.01e-5,"inh":8.7},{"series":"S_PAR","conc":1.042e-4,"inh":11.2},{"series":"S_PAR","conc":1.548e-4,"inh":13.4},{"series":"S_PAR","conc":2.316e-4,"inh":15.8},{"series":"S_PAR","conc":3.442e-4,"inh":19.6},{"series":"S_PAR","conc":4.975e-4,"inh":23.9},{"series":"S_PAR","conc":7.29e-4,"inh":28.9},{"series":"S_PAR","conc":1.047e-3,"inh":34.3},{"series":"S_PAR","conc":1.563e-3,"inh":40.7},
{"series":"S_CHL","conc":2.188e-5,"inh":3.7},{"series":"S_CHL","conc":3.258e-5,"inh":4.9},{"series":"S_CHL","conc":4.842e-5,"inh":6.2},{"series":"S_CHL","conc":7.228e-5,"inh":8.0},{"series":"S_CHL","conc":1.074e-4,"inh":10.5},{"series":"S_CHL","conc":1.596e-4,"inh":12.7},{"series":"S_CHL","conc":2.388e-4,"inh":15.1},{"series":"S_CHL","conc":3.548e-4,"inh":18.9},{"series":"S_CHL","conc":5.129e-4,"inh":23.2},{"series":"S_CHL","conc":7.516e-4,"inh":28.2},{"series":"S_CHL","conc":1.079e-3,"inh":33.6},{"series":"S_CHL","conc":1.611e-3,"inh":40.0},
{"series":"S_STR","conc":1.019e-5,"inh":10.0},{"series":"S_STR","conc":1.538e-5,"inh":11.0},{"series":"S_STR","conc":2.254e-5,"inh":11.7},{"series":"S_STR","conc":3.251e-5,"inh":12.7},{"series":"S_STR","conc":4.842e-5,"inh":13.3},{"series":"S_STR","conc":7.228e-5,"inh":14.3},{"series":"S_STR","conc":1.074e-4,"inh":15.6},{"series":"S_STR","conc":1.596e-4,"inh":16.7},{"series":"S_STR","conc":2.388e-4,"inh":18.1},{"series":"S_STR","conc":3.548e-4,"inh":19.3},{"series":"S_STR","conc":5.272e-4,"inh":20.6},{"series":"S_STR","conc":7.87e-4,"inh":21.9},
{"series":"S_APR","conc":1.524e-4,"inh":-0.5},{"series":"S_APR","conc":2.198e-4,"inh":-0.5},{"series":"S_APR","conc":3.273e-4,"inh":-0.5},{"series":"S_APR","conc":4.887e-4,"inh":-0.5},{"series":"S_APR","conc":7.261e-4,"inh":-0.5},{"series":"S_APR","conc":1.079e-3,"inh":-0.5},{"series":"S_APR","conc":1.611e-3,"inh":0},{"series":"S_APR","conc":2.286e-3,"inh":1.5},{"series":"S_APR","conc":3.304e-3,"inh":6.2},{"series":"S_APR","conc":5.082e-3,"inh":21.4},{"series":"S_APR","conc":7.295e-3,"inh":50.7},{"series":"S_APR","conc":1.054e-2,"inh":78.6}
],
"p6lead":[
{"lab":"L_TET","c1":3.631e-8,"c2":4.467e-6,"inh":82.3},
{"lab":"L_STR","c1":2.148e-8,"c2":1.233e-7,"inh":65.7},
{"lab":"L_CHL","c1":2.317e-8,"c2":2.339e-7,"inh":50.2},
{"lab":"L_PAR","c1":1.271e-8,"c2":6.081e-7,"inh":31.9},
{"lab":"L_APR","c1":7.015e-9,"c2":1.346e-6,"inh":17.2},
{"lab":"S_TET","c1":2.028e-4,"c2":4.887e-4,"inh":85.3},
{"lab":"S_APR","c1":3.681e-3,"c2":9.572e-3,"inh":70.5},
{"lab":"S_CHL","c1":6.668e-5,"c2":1.828e-3,"inh":41.2},
{"lab":"S_PAR","c1":2.366e-5,"c2":7.031e-4,"inh":26.0},
{"lab":"S_STR","c1":9.12e-6,"c2":1.259e-4,"inh":14.3}
],
"p6text":[
{"lab":"L_TET","txt":"TET","conc":3.459e-8,"inh":82.3},
{"lab":"L_STR","txt":"STR","conc":2.148e-8,"inh":65.4},
{"lab":"L_CHL","txt":"CHL","conc":1.982e-8,"inh":49.3},
{"lab":"L_PAR","txt":"PAR","conc":1.189e-8,"inh":31.6},
{"lab":"L_APR","txt":"APR","conc":7.362e-9,"inh":14.7},
{"lab":"S_TET","txt":"TET","conc":1.734e-4,"inh":86.0},
{"lab":"S_APR","txt":"APR","conc":3.681e-3,"inh":70.1},
{"lab":"S_CHL","txt":"CHL","conc":6.138e-5,"inh":43.4},
{"lab":"S_PAR","txt":"PAR","conc":2.188e-5,"inh":27.4},
{"lab":"S_STR","txt":"STR","conc":9.12e-6,"inh":13.8},
{"lab":"L","txt":"L","conc":3.083e-9,"inh":99.2},
{"lab":"S","txt":"S","conc":6.95e-3,"inh":99.2}
]
},
"spacing":3,
"resolve":{"scale":{"fill":"independent","stroke":"independent","shape":"independent","color":"independent"}},
"vconcat":[
{"spacing":28,
 "resolve":{"scale":{"fill":"independent","stroke":"independent","shape":"independent","color":"independent"}},
 "hconcat":[
 {"width":387,"height":253,"data":{"name":"apr"},
  "resolve":{"axis":{"x":"independent","y":"independent"}},
  "layer":[
   {"transform":[{"filter":"datum.kind==='pt'"}],
    "mark":{"type":"point","filled":true,"stroke":"black","strokeWidth":1,"size":52,"opacity":1},
    "encoding":{
     "x":{"field":"conc","type":"quantitative","scale":{"type":"log","domain":[1e-9,0.02],"nice":false},
      "axis":{"orient":"bottom","values":[2e-9,3e-9,4e-9,5e-9,6e-9,7e-9,8e-9,9e-9,2e-8,3e-8,4e-8,5e-8,6e-8,7e-8,8e-8,9e-8,2e-7,3e-7,4e-7,5e-7,6e-7,7e-7,8e-7,9e-7,2e-6,3e-6,4e-6,5e-6,6e-6,7e-6,8e-6,9e-6,2e-5,3e-5,4e-5,5e-5,6e-5,7e-5,8e-5,9e-5,2e-4,3e-4,4e-4,5e-4,6e-4,7e-4,8e-4,9e-4,0.002,0.003,0.004,0.005,0.006,0.007,0.008,0.009],"tickSize":-4,"labels":false,"title":null}},
     "y":{"field":"inh","type":"quantitative","scale":{"domain":[-15,120],"nice":false,"zero":false},
      "axis":{"orient":"left","values":[-10,10,30,50,70,90,110],"tickSize":-4,"labels":false,"title":null}},
     "fill":{"field":"type","type":"nominal","scale":{"domain":["S","L"],"range":["white","black"]},
      "legend":{"title":"APR","orient":"none","legendX":26,"legendY":14,"titleFontSize":26,"titlePadding":6,"labelFontSize":18,"labelOffset":11,"symbolSize":177,"symbolOffset":8,"rowPadding":0}}
    }},
   {"transform":[{"filter":"datum.kind==='up' || datum.kind==='lo'"}],
    "mark":{"type":"line","color":"#1a1aee","strokeWidth":1,"strokeDash":[7,3,1,3],"interpolate":"monotone"},
    "encoding":{
     "x":{"field":"conc","type":"quantitative","axis":{"orient":"bottom","values":[1e-9,1e-8,1e-7,1e-6,1e-5,1e-4,0.001,0.01],"tickSize":-10,"domain":false,"labels":false,"title":null}},
     "y":{"field":"inh","type":"quantitative","axis":{"orient":"left","values":[0,20,40,60,80,100,120],"tickSize":-8,"domain":false,"labelFontSize":20,"labelPadding":9,"labelFlush":true,"title":"Inhibition (%)","titleFontSize":22,"titlePadding":17,"titleY":135}},
     "detail":[{"field":"type"},{"field":"kind"}]}},
   {"transform":[{"filter":"datum.kind==='fit'"}],
    "mark":{"type":"line","color":"black","strokeWidth":1,"interpolate":"monotone"},
    "encoding":{"x":{"field":"conc","type":"quantitative","axis":null},"y":{"field":"inh","type":"quantitative","axis":null},"detail":{"field":"type"}}}
  ]},
 {"width":358,"height":250,"data":{"name":"par"},
  "resolve":{"axis":{"x":"independent","y":"independent"}},
  "layer":[
   {"transform":[{"filter":"datum.kind==='pt'"}],
    "mark":{"type":"point","filled":true,"stroke":"black","strokeWidth":1,"size":68,"opacity":1},
    "encoding":{
     "x":{"field":"conc","type":"quantitative","scale":{"type":"log","domain":[1e-9,0.02],"nice":false},
      "axis":{"orient":"bottom","values":[2e-9,3e-9,4e-9,5e-9,6e-9,7e-9,8e-9,9e-9,2e-8,3e-8,4e-8,5e-8,6e-8,7e-8,8e-8,9e-8,2e-7,3e-7,4e-7,5e-7,6e-7,7e-7,8e-7,9e-7,2e-6,3e-6,4e-6,5e-6,6e-6,7e-6,8e-6,9e-6,2e-5,3e-5,4e-5,5e-5,6e-5,7e-5,8e-5,9e-5,2e-4,3e-4,4e-4,5e-4,6e-4,7e-4,8e-4,9e-4,0.002,0.003,0.004,0.005,0.006,0.007,0.008,0.009],"tickSize":-4,"labels":false,"title":null}},
     "y":{"field":"inh","type":"quantitative","scale":{"domain":[-15,120],"nice":false,"zero":false},
      "axis":{"orient":"left","values":[-10,10,30,50,70,90,110],"tickSize":-4,"labels":false,"title":null}},
     "fill":{"field":"type","type":"nominal","scale":{"domain":["S","L"],"range":["white","black"]},
      "legend":{"title":"PAR","orient":"none","legendX":24,"legendY":10,"titleFontSize":25,"titlePadding":0,"labelFontSize":17,"labelOffset":12,"symbolSize":240,"symbolOffset":10,"rowPadding":5}}
    }},
   {"transform":[{"filter":"datum.kind==='up' || datum.kind==='lo'"}],
    "mark":{"type":"line","color":"#1a1aee","strokeWidth":1,"strokeDash":[7,3,1,3],"interpolate":"monotone"},
    "encoding":{
     "x":{"field":"conc","type":"quantitative","axis":{"orient":"bottom","values":[1e-9,1e-8,1e-7,1e-6,1e-5,1e-4,0.001,0.01],"tickSize":-10,"domain":false,"labels":false,"title":null}},
     "y":{"field":"inh","type":"quantitative","axis":{"orient":"left","values":[0,20,40,60,80,100,120],"tickSize":-8,"domain":false,"labels":false,"title":null}},
     "detail":[{"field":"type"},{"field":"kind"}]}},
   {"transform":[{"filter":"datum.kind==='fit'"}],
    "mark":{"type":"line","color":"black","strokeWidth":1,"interpolate":"monotone"},
    "encoding":{"x":{"field":"conc","type":"quantitative","axis":null},"y":{"field":"inh","type":"quantitative","axis":null},"detail":{"field":"type"}}}
  ]},
 {"width":355,"height":240,"data":{"name":"tet"},
  "resolve":{"axis":{"x":"independent","y":"independent"}},
  "layer":[
   {"transform":[{"filter":"datum.kind==='pt'"}],
    "mark":{"type":"point","filled":true,"stroke":"black","strokeWidth":1,"size":44,"opacity":1},
    "encoding":{
     "x":{"field":"conc","type":"quantitative","scale":{"type":"log","domain":[1.39e-9,0.02],"nice":false},
      "axis":{"orient":"bottom","values":[2e-9,3e-9,4e-9,5e-9,6e-9,7e-9,8e-9,9e-9,2e-8,3e-8,4e-8,5e-8,6e-8,7e-8,8e-8,9e-8,2e-7,3e-7,4e-7,5e-7,6e-7,7e-7,8e-7,9e-7,2e-6,3e-6,4e-6,5e-6,6e-6,7e-6,8e-6,9e-6,2e-5,3e-5,4e-5,5e-5,6e-5,7e-5,8e-5,9e-5,2e-4,3e-4,4e-4,5e-4,6e-4,7e-4,8e-4,9e-4,0.002,0.003,0.004,0.005,0.006,0.007,0.008,0.009],"tickSize":-4,"labels":false,"title":null}},
     "y":{"field":"inh","type":"quantitative","scale":{"domain":[-15,120],"nice":false,"zero":false},
      "axis":{"orient":"left","values":[-10,10,30,50,70,90,110],"tickSize":-4,"labels":false,"title":null}},
     "fill":{"field":"type","type":"nominal","scale":{"domain":["S","L"],"range":["white","black"]},
      "legend":{"title":"TET","orient":"none","legendX":24,"legendY":11,"titleFontSize":25,"titlePadding":0,"labelFontSize":17,"labelOffset":10,"symbolSize":177,"symbolOffset":7,"rowPadding":2}}
    }},
   {"transform":[{"filter":"datum.kind==='up' || datum.kind==='lo'"}],
    "mark":{"type":"line","color":"#1a1aee","strokeWidth":1,"strokeDash":[7,3,1,3],"interpolate":"monotone"},
    "encoding":{
     "x":{"field":"conc","type":"quantitative","axis":{"orient":"bottom","values":[1e-8,1e-7,1e-6,1e-5,1e-4,0.001,0.01],"tickSize":-10,"domain":false,"labels":false,"title":null}},
     "y":{"field":"inh","type":"quantitative","axis":{"orient":"left","values":[0,20,40,60,80,100,120],"tickSize":-8,"domain":false,"labels":false,"title":null}},
     "detail":[{"field":"type"},{"field":"kind"}]}},
   {"transform":[{"filter":"datum.kind==='fit'"}],
    "mark":{"type":"line","color":"black","strokeWidth":1,"interpolate":"monotone"},
    "encoding":{"x":{"field":"conc","type":"quantitative","axis":null},"y":{"field":"inh","type":"quantitative","axis":null},"detail":{"field":"type"}}}
  ]}
 ]},
{"spacing":14,
 "resolve":{"scale":{"fill":"independent","stroke":"independent","shape":"independent","color":"independent"}},
 "hconcat":[
 {"width":387,"height":240,"data":{"name":"chl"},
  "resolve":{"axis":{"x":"independent","y":"independent"}},
  "layer":[
   {"transform":[{"filter":"datum.kind==='pt'"}],
    "mark":{"type":"point","filled":true,"stroke":"black","strokeWidth":1,"size":60,"opacity":1},
    "encoding":{
     "x":{"field":"conc","type":"quantitative","scale":{"type":"log","domain":[7.0e-10,0.02],"nice":false},
      "axis":{"orient":"bottom","values":[2e-9,3e-9,4e-9,5e-9,6e-9,7e-9,8e-9,9e-9,2e-8,3e-8,4e-8,5e-8,6e-8,7e-8,8e-8,9e-8,2e-7,3e-7,4e-7,5e-7,6e-7,7e-7,8e-7,9e-7,2e-6,3e-6,4e-6,5e-6,6e-6,7e-6,8e-6,9e-6,2e-5,3e-5,4e-5,5e-5,6e-5,7e-5,8e-5,9e-5,2e-4,3e-4,4e-4,5e-4,6e-4,7e-4,8e-4,9e-4,0.002,0.003,0.004,0.005,0.006,0.007,0.008,0.009],"tickSize":-4,"labels":false,"title":null}},
     "y":{"field":"inh","type":"quantitative","scale":{"domain":[-15,120],"nice":false,"zero":false},
      "axis":{"orient":"left","values":[-10,10,30,50,70,90,110],"tickSize":-4,"labels":false,"title":null}},
     "fill":{"field":"type","type":"nominal","scale":{"domain":["S","L"],"range":["white","black"]},
      "legend":{"title":"CHL","orient":"none","legendX":33,"legendY":14,"titleFontSize":27,"titlePadding":1,"labelFontSize":18,"labelOffset":11,"symbolSize":190,"symbolOffset":10,"rowPadding":3}}
    }},
   {"transform":[{"filter":"datum.kind==='up' || datum.kind==='lo'"}],
    "mark":{"type":"line","color":"#1a1aee","strokeWidth":1,"strokeDash":[7,3,1,3],"interpolate":"monotone"},
    "encoding":{
     "x":{"field":"conc","type":"quantitative","axis":{"orient":"bottom","values":[1e-9,1e-8,1e-7,1e-6,1e-5,1e-4,0.001,0.01],"tickSize":-10,"domain":false,"labelExpr":"datum.value > 0.005 ? '0.01' : '1E' + round(log(datum.value)/LN10)","labelFontSize":16,"labelPadding":23,"title":"Concentration (mol/L)","titleFontSize":23,"titlePadding":17}},
     "y":{"field":"inh","type":"quantitative","axis":{"orient":"left","values":[0,20,40,60,80,100,120],"tickSize":-8,"domain":false,"labelFontSize":21,"labelPadding":5,"labelFlush":true,"title":"Inhibition (%)","titleFontSize":27,"titlePadding":12,"titleY":143}},
     "detail":[{"field":"type"},{"field":"kind"}]}},
   {"transform":[{"filter":"datum.kind==='fit'"}],
    "mark":{"type":"line","color":"black","strokeWidth":1,"interpolate":"monotone"},
    "encoding":{"x":{"field":"conc","type":"quantitative","axis":null},"y":{"field":"inh","type":"quantitative","axis":null},"detail":{"field":"type"}}}
  ]},
 {"width":360,"height":238,"data":{"name":"strp"},
  "resolve":{"axis":{"x":"independent","y":"independent"}},
  "layer":[
   {"transform":[{"filter":"datum.kind==='pt'"}],
    "mark":{"type":"point","filled":true,"stroke":"black","strokeWidth":1,"size":55,"opacity":1},
    "encoding":{
     "x":{"field":"conc","type":"quantitative","scale":{"type":"log","domain":[4.57e-10,0.0201],"nice":false},
      "axis":{"orient":"bottom","values":[2e-9,3e-9,4e-9,5e-9,6e-9,7e-9,8e-9,9e-9,2e-8,3e-8,4e-8,5e-8,6e-8,7e-8,8e-8,9e-8,2e-7,3e-7,4e-7,5e-7,6e-7,7e-7,8e-7,9e-7,2e-6,3e-6,4e-6,5e-6,6e-6,7e-6,8e-6,9e-6,2e-5,3e-5,4e-5,5e-5,6e-5,7e-5,8e-5,9e-5,2e-4,3e-4,4e-4,5e-4,6e-4,7e-4,8e-4,9e-4,0.002,0.003,0.004,0.005,0.006,0.007,0.008,0.009],"tickSize":-4,"labels":false,"title":null}},
     "y":{"field":"inh","type":"quantitative","scale":{"domain":[-15.5,120],"nice":false,"zero":false},
      "axis":{"orient":"left","values":[-10,10,30,50,70,90,110],"tickSize":-4,"labels":false,"title":null}},
     "fill":{"field":"type","type":"nominal","scale":{"domain":["S","L"],"range":["white","black"]},
      "legend":{"title":"STR","orient":"none","legendX":37,"legendY":13,"titleFontSize":23,"titlePadding":4,"labelFontSize":17,"labelOffset":12,"symbolSize":240,"symbolOffset":6,"rowPadding":4}}
    }},
   {"transform":[{"filter":"datum.kind==='up' || datum.kind==='lo'"}],
    "mark":{"type":"line","color":"#1a1aee","strokeWidth":1,"strokeDash":[7,3,1,3],"interpolate":"monotone"},
    "encoding":{
     "x":{"field":"conc","type":"quantitative","axis":{"orient":"bottom","values":[1e-9,1e-8,1e-7,1e-6,1e-5,1e-4,0.001,0.01],"tickSize":-10,"domain":false,"labelExpr":"datum.value > 0.005 ? '0.01' : '1E' + round(log(datum.value)/LN10)","labelFontSize":19,"labelPadding":14,"labelOffset":10,"title":"Concentration (mol/L)","titleFontSize":23,"titlePadding":22}},
     "y":{"field":"inh","type":"quantitative","axis":{"orient":"left","values":[0,20,40,60,80,100,120],"tickSize":-8,"domain":false,"labels":false,"title":null}},
     "detail":[{"field":"type"},{"field":"kind"}]}},
   {"transform":[{"filter":"datum.kind==='fit'"}],
    "mark":{"type":"line","color":"black","strokeWidth":1,"interpolate":"monotone"},
    "encoding":{"x":{"field":"conc","type":"quantitative","axis":null},"y":{"field":"inh","type":"quantitative","axis":null},"detail":{"field":"type"}}}
  ]},
 {"width":342,"height":242,
  "resolve":{"scale":{"color":"independent"},"axis":{"x":"independent","y":"independent"}},
  "layer":[
   {"data":{"name":"p6"},
    "mark":{"type":"line","strokeWidth":1,"interpolate":"monotone"},
    "encoding":{
     "x":{"field":"conc","type":"quantitative","scale":{"type":"log","domain":[1e-9,0.02],"nice":false},
      "axis":{"orient":"bottom","values":[2e-9,3e-9,4e-9,5e-9,6e-9,7e-9,8e-9,9e-9,2e-8,3e-8,4e-8,5e-8,6e-8,7e-8,8e-8,9e-8,2e-7,3e-7,4e-7,5e-7,6e-7,7e-7,8e-7,9e-7,2e-6,3e-6,4e-6,5e-6,6e-6,7e-6,8e-6,9e-6,2e-5,3e-5,4e-5,5e-5,6e-5,7e-5,8e-5,9e-5,2e-4,3e-4,4e-4,5e-4,6e-4,7e-4,8e-4,9e-4,0.002,0.003,0.004,0.005,0.006,0.007,0.008,0.009],"tickSize":-4,"labels":false,"title":null}},
     "y":{"field":"inh","type":"quantitative","scale":{"domain":[-10.6,109.5],"nice":false,"zero":false},
      "axis":{"orient":"left","values":[0,20,40,60,80,100],"ticks":false,"labelExpr":"')'","labelFontSize":16,"labelPadding":11,"title":null}},
     "color":{"field":"series","type":"nominal","legend":null,
      "scale":{"domain":["L_STR","L_CHL","L_PAR","L_TET","L_APR","S_TET","S_CHL","S_PAR","S_STR","S_APR"],
               "range":["#ff00ff","#008080","#ff0000","#0000ff","#808000","#0000ff","#008080","#ff0000","#ff00ff","#000000"]}}
    }},
   {"data":{"name":"p6"},
    "mark":{"type":"point","strokeWidth":1,"size":55,"opacity":1},
    "encoding":{
     "x":{"field":"conc","type":"quantitative","axis":{"orient":"bottom","values":[1e-9,1e-8,1e-7,1e-6,1e-5,1e-4,0.001,0.01],"tickSize":-10,"domain":false,"labelExpr":"datum.value > 0.005 ? '0.01' : '1E' + round(log(datum.value)/LN10)","labelFontSize":16,"labelPadding":13,"labelOffset":-3,"labelFlush":true,"labelFlushOffset":-4,"title":"Concentration (mol/L)","titleFontSize":23,"titlePadding":29}},
     "y":{"field":"inh","type":"quantitative","axis":null},
     "shape":{"field":"series","type":"nominal","legend":null,
      "scale":{"domain":["L_STR","L_CHL","L_PAR","L_TET","L_APR","S_TET","S_CHL","S_PAR","S_STR","S_APR"],
               "range":["M0,-1L0.2245,-0.309L0.9511,-0.309L0.3633,0.118L0.5878,0.809L0,0.382L-0.5878,0.809L-0.3633,0.118L-0.9511,-0.309L-0.2245,-0.309Z","triangle-down","circle","triangle-down","square","triangle-up","triangle-down","circle","M0,-1L0.2245,-0.309L0.9511,-0.309L0.3633,0.118L0.5878,0.809L0,0.382L-0.5878,0.809L-0.3633,0.118L-0.9511,-0.309L-0.2245,-0.309Z","square"]}},
     "stroke":{"field":"series","type":"nominal","legend":null,
      "scale":{"domain":["L_STR","L_CHL","L_PAR","L_TET","L_APR","S_TET","S_CHL","S_PAR","S_STR","S_APR"],
               "range":["#ff00ff","#008080","#ff0000","#0000ff","#000000","#0000ff","#1f5f5f","#ff0000","#ff00ff","#000000"]}},
     "fill":{"field":"series","type":"nominal","legend":null,
      "scale":{"domain":["L_STR","L_CHL","L_PAR","L_TET","L_APR","S_TET","S_CHL","S_PAR","S_STR","S_APR"],
               "range":["rgba(255,255,255,0)","rgba(255,255,255,0)","rgba(255,255,255,0)","rgba(255,255,255,0)","rgba(255,255,255,0)","#0000ff","#2f8f8f","#ff0000","#ff00ff","#000000"]}}
    }},
   {"data":{"name":"p6lead"},
    "mark":{"type":"rule","strokeWidth":1},
    "encoding":{
     "x":{"field":"c1","type":"quantitative","axis":null},"x2":{"field":"c2"},
     "y":{"field":"inh","type":"quantitative","axis":null},
     "color":{"field":"lab","type":"nominal","legend":null,
      "scale":{"domain":["L_TET","L_STR","L_CHL","L_PAR","L_APR","S_TET","S_APR","S_CHL","S_PAR","S_STR"],
               "range":["#0000ff","#ff00ff","#008080","#ff0000","#000000","#0000ff","#000000","#000000","#ff0000","#ff00ff"]}}
    }},
   {"data":{"name":"p6text"},
    "transform":[{"filter":"datum.lab !== 'L' && datum.lab !== 'S'"}],
    "mark":{"type":"text","align":"right","baseline":"middle","font":"Liberation Sans","fontSize":17},
    "encoding":{
     "x":{"field":"conc","type":"quantitative","axis":null},
     "y":{"field":"inh","type":"quantitative","axis":null},
     "text":{"field":"txt"},
     "color":{"field":"lab","type":"nominal","legend":null,
      "scale":{"domain":["L_TET","L_STR","L_CHL","L_PAR","L_APR","S_TET","S_APR","S_CHL","S_PAR","S_STR"],
               "range":["#0000ff","#ff00ff","#1a8a1a","#ff0000","#000000","#0000ff","#000000","#000000","#ff0000","#ff00ff"]}}
    }},
   {"data":{"name":"p6text"},
    "transform":[{"filter":"datum.lab === 'L' || datum.lab === 'S'"}],
    "mark":{"type":"text","align":"center","baseline":"middle","font":"Liberation Serif","fontSize":18,"color":"black"},
    "encoding":{
     "x":{"field":"conc","type":"quantitative","axis":null},
     "y":{"field":"inh","type":"quantitative","axis":null},
     "text":{"field":"txt"}
    }}
  ]}
 ]}
]
}
